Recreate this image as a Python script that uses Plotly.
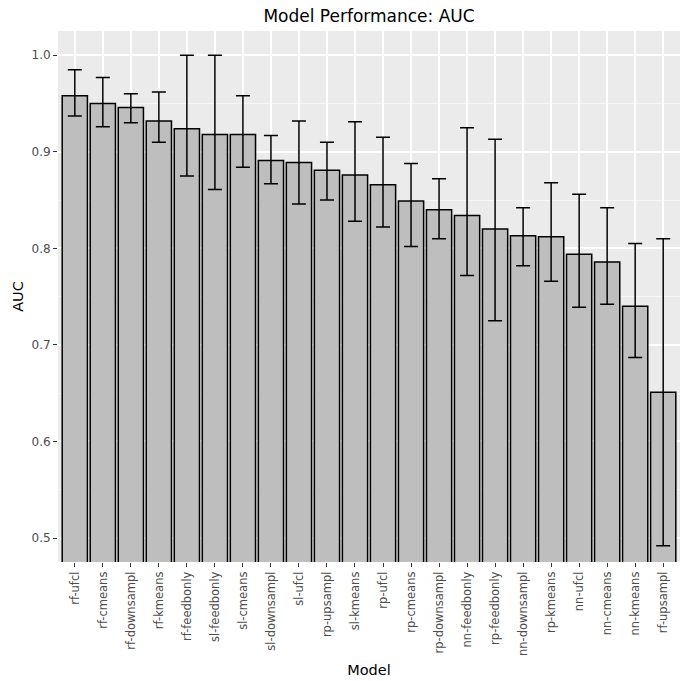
import plotly.graph_objects as go

# Model names, ordered by mean AUC
models = ["rf-ufcl", "rf-cmeans", "rf-downsampl", "rf-kmeans", "rf-feedbonly",
          "sl-feedbonly", "sl-cmeans", "sl-downsampl", "sl-ufcl", "rp-upsampl",
          "sl-kmeans", "rp-ufcl", "rp-cmeans", "rp-downsampl", "nn-feedbonly",
          "rp-feedbonly", "nn-downsampl", "rp-kmeans", "nn-ufcl", "nn-cmeans",
          "nn-kmeans", "rf-upsampl"]

# Mean AUC per model
auc_mean = [0.958, 0.950, 0.946, 0.932, 0.924,
            0.918, 0.918, 0.891, 0.889, 0.881,
            0.876, 0.866, 0.849, 0.840, 0.834,
            0.820, 0.813, 0.812, 0.794, 0.786,
            0.740, 0.651]

# Upper and lower bounds of the error bars
auc_upper = [0.985, 0.977, 0.960, 0.962, 1.000,
             1.000, 0.958, 0.917, 0.932, 0.910,
             0.931, 0.915, 0.888, 0.872, 0.925,
             0.913, 0.842, 0.868, 0.856, 0.842,
             0.805, 0.810]
auc_lower = [0.937, 0.926, 0.930, 0.910, 0.875,
             0.861, 0.884, 0.867, 0.846, 0.850,
             0.828, 0.822, 0.802, 0.810, 0.772,
             0.725, 0.782, 0.766, 0.739, 0.742,
             0.687, 0.492]

err_plus = [u - m for u, m in zip(auc_upper, auc_mean)]
err_minus = [m - l for m, l in zip(auc_mean, auc_lower)]

font_family = "DejaVu Sans, Liberation Sans, sans-serif"

fig = go.Figure()
fig.add_trace(go.Bar(
    x=models,
    y=auc_mean,
    width=0.9,
    marker=dict(color="#BEBEBE", line=dict(color="#000000", width=1.5)),
    error_y=dict(type="data", symmetric=False, array=err_plus,
                 arrayminus=err_minus, color="#000000", thickness=1.5, width=7),
    showlegend=False,
))

fig.update_layout(
    width=685, height=681,
    margin=dict(l=58, r=5, t=31, b=119),
    paper_bgcolor="#FFFFFF",
    plot_bgcolor="#EBEBEB",
    font=dict(family=font_family, color="#000000"),
    title=dict(text="Model Performance: AUC", x=0.5, xref="paper",
               y=0.977, yanchor="middle",
               font=dict(size=17, color="#000000")),
    bargap=0.1,
)

fig.update_xaxes(
    title=dict(text="Model", font=dict(size=14.5, color="#000000"), standoff=9),
    tickangle=-90,
    tickfont=dict(size=11.5, color="#4D4D4D"),
    showgrid=True, gridcolor="#FFFFFF", gridwidth=1.6,
    ticks="outside", ticklen=4, tickcolor="#333333", tickwidth=1,
    showline=False, zeroline=False,
    range=[-0.6, len(models) - 0.4],
)

fig.update_yaxes(
    title=dict(text="AUC", font=dict(size=14.5, color="#000000"), standoff=4),
    range=[0.4752, 1.0251],
    tickmode="array",
    tickvals=[0.5, 0.6, 0.7, 0.8, 0.9, 1.0],
    ticktext=["0.5", "0.6", "0.7", "0.8", "0.9", "1.0"],
    tickfont=dict(size=12, color="#4D4D4D"),
    showgrid=True, gridcolor="#FFFFFF", gridwidth=1.6,
    minor=dict(tickvals=[0.55, 0.65, 0.75, 0.85, 0.95],
               showgrid=True, gridcolor="#F5F5F5", gridwidth=0.8, ticks=""),
    ticks="outside", ticklen=4, tickcolor="#333333", tickwidth=1,
    showline=False, zeroline=False,
)

fig.write_html("out.html")
